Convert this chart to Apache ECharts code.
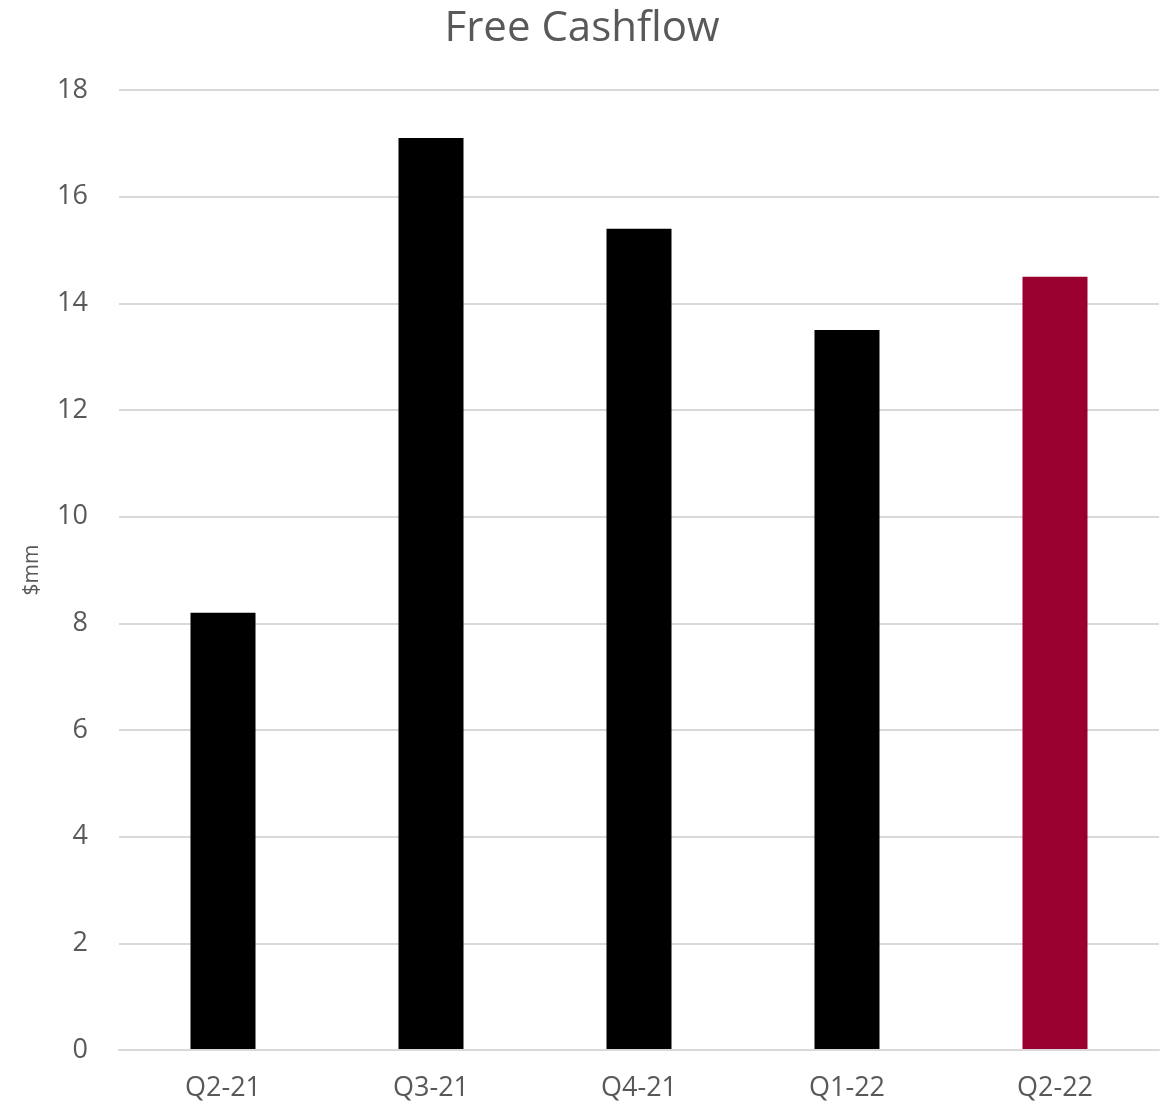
<!DOCTYPE html>
<html>
<head>
<meta charset="utf-8">
<script src="https://cdn.jsdelivr.net/npm/echarts@6/dist/echarts.min.js"></script>
<style>
html,body{margin:0;padding:0;background:#fff;}
#chart{width:1164px;height:1108px;}
</style>
</head>
<body>
<div id="chart"></div>
<script>
const categories = ['Q2-21', 'Q3-21', 'Q4-21', 'Q1-22', 'Q2-22'];
const values = [8.2, 17.1, 15.4, 13.5, 14.5];
const barColors = ['#000000', '#000000', '#000000', '#000000', '#990030'];
const titleText = 'Free Cashflow';
const yAxisName = '$mm';

const chart = echarts.init(document.getElementById('chart'));
chart.setOption({
  backgroundColor: '#ffffff',
  animation: false,
  title: {
    text: titleText,
    left: 'center',
    top: 3,
    textStyle: { fontFamily: 'Open Sans', fontSize: 42, fontWeight: 'normal', color: '#595959' }
  },
  grid: { left: 119, right: 5, top: 90, bottom: 58, containLabel: false },
  xAxis: {
    type: 'category',
    data: categories,
    z: 5,
    axisLine: { show: true, lineStyle: { color: '#d9d9d9', width: 2 } },
    axisTick: { show: false },
    axisLabel: { fontFamily: 'Open Sans', fontSize: 27, color: '#595959', margin: 25 }
  },
  yAxis: {
    type: 'value',
    min: 0, max: 18, interval: 2,
    name: yAxisName,
    nameLocation: 'middle',
    nameRotate: 90,
    nameGap: 76,
    nameTextStyle: { fontFamily: 'Open Sans', fontSize: 21, color: '#595959' },
    axisLine: { show: false },
    axisTick: { show: false },
    axisLabel: { fontFamily: 'Open Sans', fontSize: 27, color: '#595959', margin: 31 },
    splitLine: { lineStyle: { color: '#d9d9d9', width: 2 } }
  },
  series: [{
    type: 'bar',
    data: values.map((v, i) => ({ value: v, itemStyle: { color: barColors[i] } })),
    barWidth: 65
  }]
});
</script>
</body>
</html>
